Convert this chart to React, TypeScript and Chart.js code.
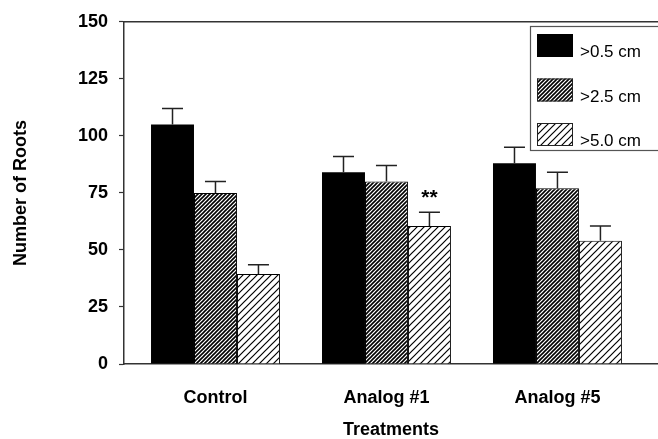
import React, { useEffect, useRef } from 'react';
import { Chart, registerables } from 'chart.js';

Chart.register(...registerables);

const categories = ['Control', 'Analog #1', 'Analog #5'];
const seriesLabels = ['>0.5 cm', '>2.5 cm', '>5.0 cm'];
const rootsOver05 = [105, 84, 88];
const rootsOver25 = [75, 80, 77];
const rootsOver50 = [39.5, 60.5, 54];
const errOver05 = [7, 7, 7];
const errOver25 = [5, 7, 7];
const errOver50 = [4, 6, 6.5];
const marksOver50 = ['', '**', ''];
const yTickStep = 25;
const yMax = 150;
const yTitle = 'Number of Roots';
const xTitle = 'Treatments';

const FONT = '"Liberation Sans", Arial, Helvetica, sans-serif';

function hatch(size: number, lw: number) {
  const c = document.createElement('canvas');
  c.width = size;
  c.height = size;
  const g = c.getContext('2d')!;
  g.fillStyle = '#fff';
  g.fillRect(0, 0, size, size);
  g.strokeStyle = '#000';
  g.lineWidth = lw;
  g.beginPath();
  for (let k = 0; k <= 2; k++) {
    g.moveTo(-1, k * size + 1);
    g.lineTo(size + 1, k * size - size - 1);
  }
  g.stroke();
  return g.createPattern(c, 'repeat')!;
}

const errorPlugin = {
  id: 'errorBars',
  afterDatasetsDraw(chart: any) {
    const ctx = chart.ctx;
    const ys = chart.scales.y;
    chart.data.datasets.forEach((ds: any, di: number) => {
      const meta = chart.getDatasetMeta(di);
      meta.data.forEach((bar: any, i: number) => {
        const v = ds.data[i].y;
        const e = ds.errors[i];
        const top = ys.getPixelForValue(v + e);
        ctx.save();
        ctx.strokeStyle = '#222';
        ctx.lineWidth = 1.5;
        ctx.beginPath();
        ctx.moveTo(bar.x, bar.y);
        ctx.lineTo(bar.x, top);
        ctx.moveTo(bar.x - 10.5, top);
        ctx.lineTo(bar.x + 10.5, top);
        ctx.stroke();
        const mark = ds.marks ? ds.marks[i] : '';
        if (mark) {
          ctx.font = 'bold 21px ' + FONT;
          ctx.fillStyle = '#000';
          ctx.textAlign = 'center';
          ctx.textBaseline = 'middle';
          ctx.fillText(mark, bar.x, top - 14);
        }
        ctx.restore();
      });
    });
  },
};

const framePlugin = {
  id: 'frameTop',
  afterDraw(chart: any) {
    const { ctx, chartArea } = chart;
    ctx.save();
    ctx.strokeStyle = '#333';
    ctx.lineWidth = 1.5;
    ctx.beginPath();
    ctx.moveTo(chartArea.left, chartArea.top);
    ctx.lineTo(chart.width, chartArea.top);
    ctx.stroke();

    // legend box
    const lx = 530, ly = 26, lw = 200, lh = 124;
    ctx.fillStyle = '#fff';
    ctx.fillRect(lx, ly, lw, lh);
    ctx.strokeStyle = '#555';
    ctx.lineWidth = 1.2;
    ctx.strokeRect(lx + 0.5, ly + 0.5, lw, lh);
    chart.data.datasets.forEach((ds: any, i: number) => {
      const sy = 34 + i * 44.5;
      ctx.fillStyle = ds.backgroundColor;
      ctx.fillRect(537, sy, 36, 23);
      if (i > 0) {
        ctx.strokeStyle = '#222';
        ctx.lineWidth = 1;
        ctx.strokeRect(537.5, sy + 0.5, 35, 22);
      }
      ctx.fillStyle = '#000';
      ctx.font = '17px ' + FONT;
      ctx.textAlign = 'left';
      ctx.textBaseline = 'alphabetic';
      ctx.fillText(ds.label, 580, sy + 23);
    });
    ctx.restore();
  },
};

export default function App() {
  const ref = useRef<HTMLCanvasElement | null>(null);

  useEffect(() => {
    if (!ref.current) return;
    const dense = hatch(4, 1.6);
    const light = hatch(7, 1.2);
    const toPts = (arr: number[]) => arr.map((y, i) => ({ x: i, y }));
    const chart = new Chart(ref.current, {
      type: 'bar',
      data: {
        datasets: [
          {
            label: seriesLabels[0],
            data: toPts(rootsOver05),
            backgroundColor: '#000',
            borderWidth: 0,
            errors: errOver05,
          } as any,
          {
            label: seriesLabels[1],
            data: toPts(rootsOver25),
            backgroundColor: dense,
            borderColor: '#000',
            borderWidth: 1,
            borderSkipped: 'bottom',
            errors: errOver25,
          } as any,
          {
            label: seriesLabels[2],
            data: toPts(rootsOver50),
            backgroundColor: light,
            borderColor: '#000',
            borderWidth: 1,
            borderSkipped: 'bottom',
            errors: errOver50,
            marks: marksOver50,
          } as any,
        ],
      },
      options: {
        responsive: false,
        animation: false,
        datasets: { bar: { categoryPercentage: 0.754, barPercentage: 1 } },
        layout: { padding: { top: 16, left: 0, right: 0, bottom: 0 } },
        plugins: { legend: { display: false }, tooltip: { enabled: false } },
        scales: {
          x: {
            type: 'linear',
            offset: false,
            min: -0.535,
            max: 2.588,
            afterFit: (s: any) => { s.height = 75; },
            afterBuildTicks: (s: any) => { s.ticks = categories.map((_, i) => ({ value: i })); },
            grid: { display: false, offset: false, drawTicks: false },
            border: { display: true, color: '#333', width: 1.5 },
            ticks: {
              autoSkip: false,
              maxRotation: 0,
              padding: 23,
              color: '#000',
              font: { family: FONT, size: 18, weight: 'bold' },
              callback: (v: any) => categories[Math.round(v)] ?? '',
            },
            title: {
              display: true,
              text: xTitle,
              color: '#000',
              font: { family: FONT, size: 18, weight: 'bold', lineHeight: 1 },
              padding: { top: 0, bottom: 0 },
            },
          },
          y: {
            min: 0,
            max: yMax,
            afterFit: (s: any) => { s.width = 124; },
            grid: { drawOnChartArea: false, drawTicks: true, tickLength: 5, color: '#333', tickWidth: 1.2 },
            border: { display: true, color: '#333', width: 1.5 },
            ticks: {
              stepSize: yTickStep,
              padding: 11,
              color: '#000',
              font: { family: FONT, size: 18, weight: 'bold' },
            },
            title: {
              display: true,
              text: yTitle,
              color: '#000',
              font: { family: FONT, size: 18, weight: 'bold' },
              padding: { top: 10, bottom: 0 },
            },
          },
        },
      } as any,
      plugins: [errorPlugin, framePlugin],
    });
    return () => chart.destroy();
  }, []);

  return (
    <div style={{ position: 'fixed', left: 0, top: 0, width: 658, height: 439, overflow: 'hidden', background: '#fff' }}>
      <canvas ref={ref} width={658} height={439} style={{ width: 658, height: 439, display: 'block' }} />
    </div>
  );
}
